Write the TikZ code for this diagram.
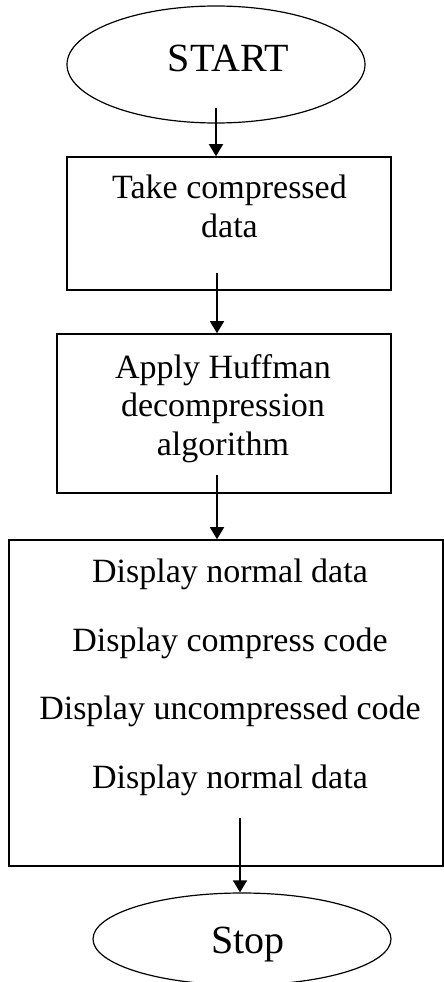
\documentclass[tikz,border=0pt]{standalone}
\usepackage{fontspec}
\setmainfont{Liberation Serif}
\usetikzlibrary{arrows.meta,positioning,calc,shapes.geometric}

\begin{document}
\begin{tikzpicture}[
    x=1pt, y=1pt,
    terminal/.style={ellipse, draw, line width=1.2pt, inner sep=0pt},
    process/.style={rectangle, draw, line width=1.6pt, inner sep=0pt},
    box_text/.style={align=center, font=\fontsize{34}{38.5}\selectfont, inner sep=0pt, anchor=base},
    term_text/.style={font=\fontsize{40}{46}\selectfont, inner sep=0pt, anchor=base},
    flow/.style={draw, line width=1.5pt, -{Triangle[length=12pt, width=14pt]}}
]

% Page frame
\useasboundingbox (0,0) rectangle (444,-982);

% Start
\node[terminal, minimum width=298, minimum height=117] (start) at (216,-64.5) {};
\node[term_text] (starttxt) at (228.5,-71) {START};

% Take compressed data (base = last line)
\node[process, minimum width=324, minimum height=133] (take) at (229,-223.5) {};
\node[box_text] (taketxt) at (229.5,-237) {Take compressed\\data};

% Apply Huffman decompression
\node[process, minimum width=334, minimum height=159] (huff) at (224,-413.5) {};
\node[box_text] (hufftxt) at (223,-455) {Apply Huffman\\decompression\\algorithm};

% Display block
\node[process, minimum width=434, minimum height=326] (show) at (226,-703) {};
\node[box_text] (showtxt) at (230,-788) {Display normal data\\[30pt]Display compress code\\[30pt]Display uncompressed code\\[30pt]Display normal data};

% Stop
\node[terminal, minimum width=298, minimum height=92] (stop) at (242,-939) {};
\node[term_text] (stoptxt) at (248,-953) {Stop};

% Arrow tails (inside the shapes above)
\coordinate (t1) at (216,-108);
\coordinate (t2) at (217,-273);
\coordinate (t3) at (217,-475);
\coordinate (t4) at (240,-818);

% Connections
\draw[flow] (t1) -- (t1 |- take.north);
\draw[flow] (t2) -- (t2 |- huff.north);
\draw[flow] (t3) -- (t3 |- show.north);
\draw[flow] (t4) -- (t4 |- stop.north);

\end{tikzpicture}
\end{document}
